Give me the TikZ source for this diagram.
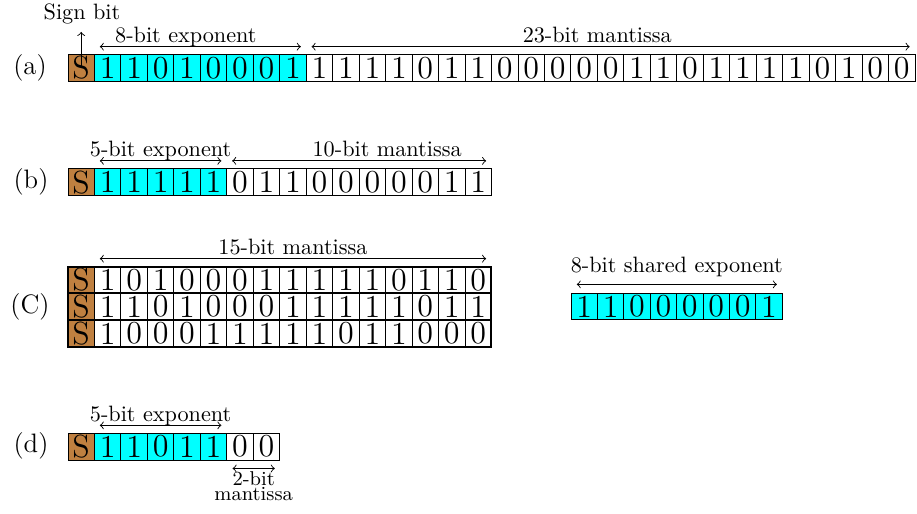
\documentclass[tikz,border=0pt]{standalone}
\definecolor{sbrown}{rgb}{0.75,0.5,0.25}
\definecolor{scyan}{RGB}{0,255,255}
\begin{document}
\begin{tikzpicture}[x=0.45pt,y=-0.45pt,
  cell/.style={draw=black, line width=0.4pt, minimum width=11.91pt, minimum height=12pt, inner sep=0pt, outer sep=0pt, font=\Large},
  scell/.style={cell, fill=sbrown},
  ecell/.style={cell, fill=scyan},
  mcell/.style={cell},
  dim/.style={<->, line width=0.4pt},
  lbl/.style={anchor=base, inner sep=0pt, yshift=1.8pt},
  tag/.style={font=\large, inner sep=0pt},
  rowbox/.style={line width=0.9pt}]
\useasboundingbox (0,0) rectangle (917,514);

% ---------- (a) ----------
\node[tag] (ta) at (30,68) {(a)};
\node[scell] (a0) at (81.2,68) {S};
\foreach \b [count=\i] in {1,1,0,1,0,0,0,1}
  \node[ecell] (a\i) at ({81.2+26.47*\i},68) {\b};
\foreach \b [count=\i from 9] in {1,1,1,1,0,1,1,0,0,0,0,0,1,1,0,1,1,1,1,0,1,0,0}
  \node[mcell] (a\i) at ({81.2+26.47*\i},68) {\b};
\node[anchor=base] (sb) at (82,19.5) {Sign bit};
\draw[->, line width=0.4pt] (a0.center) -- (a0.center |- sb.south);
\draw[dim] ([xshift=2.4pt,yshift=3.6pt]a1.north west) -- ([xshift=-2.4pt,yshift=3.6pt]a8.north east)
  node[lbl, midway, xshift=-6.5pt] {8-bit exponent};
\draw[dim] ([xshift=2.4pt,yshift=3.6pt]a9.north west) -- ([xshift=-2.4pt,yshift=3.6pt]a31.north east)
  node[lbl, midway, xshift=-6pt] {23-bit mantissa};

% ---------- (b) ----------
\node[tag] (tb) at (31,182) {(b)};
\node[scell] (b0) at (81.2,182.2) {S};
\foreach \b [count=\i] in {1,1,1,1,1}
  \node[ecell] (b\i) at ({81.2+26.47*\i},182.2) {\b};
\foreach \b [count=\i from 6] in {0,1,1,0,0,0,0,0,1,1}
  \node[mcell] (b\i) at ({81.2+26.47*\i},182.2) {\b};
\draw[dim] ([xshift=2.4pt,yshift=3.6pt]b1.north west) -- ([xshift=-2.4pt,yshift=3.6pt]b5.north east)
  node[lbl, midway] {5-bit exponent};
\draw[dim] ([xshift=2.4pt,yshift=3.6pt]b6.north west) -- ([xshift=-2.4pt,yshift=3.6pt]b15.north east)
  node[lbl, midway, xshift=12.6pt] {10-bit mantissa};

% ---------- (C) ----------
\node[tag] (tc) at (30,307) {(C)};
\node[scell] (ca0) at (81.2,280) {S};
\foreach \b [count=\i] in {1,0,1,0,0,0,1,1,1,1,1,0,1,1,0}
  \node[mcell] (ca\i) at ({81.2+26.47*\i},280) {\b};
\node[scell] (cb0) at (81.2,306.7) {S};
\foreach \b [count=\i] in {1,1,0,1,0,0,0,1,1,1,1,1,0,1,1}
  \node[mcell] (cb\i) at ({81.2+26.47*\i},306.7) {\b};
\node[scell] (cc0) at (81.2,333.4) {S};
\foreach \b [count=\i] in {1,0,0,0,1,1,1,1,1,0,1,1,0,0,0}
  \node[mcell] (cc\i) at ({81.2+26.47*\i},333.4) {\b};
\draw[rowbox] (ca0.north west) rectangle (ca15.south east);
\draw[rowbox] (cb0.north west) rectangle (cb15.south east);
\draw[rowbox] (cc0.north west) rectangle (cc15.south east);
\draw[dim] ([xshift=2.4pt,yshift=3.6pt]ca1.north west) -- ([xshift=-2.4pt,yshift=3.6pt]ca15.north east)
  node[lbl, midway] {15-bit mantissa};

% shared exponent
\foreach \b [count=\i] in {1,1,0,0,0,0,0,1}
  \node[ecell] (e\i) at ({557.8+26.4*\i},306.6) {\b};
\draw[dim] ([xshift=2.6pt,yshift=4pt]e1.north west) -- ([xshift=-2.4pt,yshift=4pt]e8.north east)
  node[lbl, midway, yshift=3.6pt] {8-bit shared exponent};

% ---------- (d) ----------
\node[tag] (td) at (31,446) {(d)};
\node[scell] (d0) at (81.2,446.7) {S};
\foreach \b [count=\i] in {1,1,0,1,1}
  \node[ecell] (d\i) at ({81.2+26.47*\i},446.7) {\b};
\foreach \b [count=\i from 6] in {0,0}
  \node[mcell] (d\i) at ({81.2+26.47*\i},446.7) {\b};
\draw[dim] ([xshift=2.4pt,yshift=3.6pt]d1.north west) -- ([xshift=-2.4pt,yshift=3.6pt]d5.north east)
  node[lbl, midway] {5-bit exponent};
\draw[dim] ([xshift=2.6pt,yshift=-3.8pt]d6.south west) -- ([xshift=-2.2pt,yshift=-3.8pt]d7.south east)
  node[midway, anchor=north, inner sep=0pt, yshift=-1.3pt, align=center, font=\small] {2-bit\\[-4.2pt]mantissa};
\end{tikzpicture}
\end{document}
